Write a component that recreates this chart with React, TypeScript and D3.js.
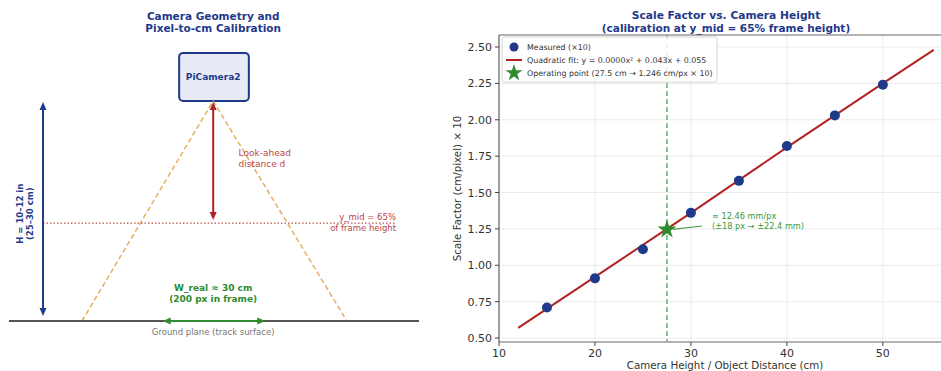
import React from 'react';
import * as d3 from 'd3';

// ---- right panel data ----
const cameraHeights = [15, 20, 25, 30, 35, 40, 45, 50];
const scaleMeasured = [0.71, 0.91, 1.11, 1.36, 1.58, 1.82, 2.03, 2.24];
const fitHeights = [12, 20, 30, 40, 50, 55.3];
const fitValues = [0.57, 0.92, 1.36, 1.81, 2.25, 2.48];
const operatingPoint = [27.5, 1.246];
const xTicks = [10, 20, 30, 40, 50];
const yTicks = [0.5, 0.75, 1.0, 1.25, 1.5, 1.75, 2.0, 2.25, 2.5];
const legendLabels = [
  'Measured (×10)',
  'Quadratic fit: y = 0.0000x² + 0.043x + 0.055',
  'Operating point (27.5 cm → 1.246 cm/px × 10)',
];

// ---- left panel diagram (in diagram units) ----
const cameraBox = [4.15, 8, 5.85, 9.75]; // x0, y0, x1, y1
const fovTriangle = [[1.78, 0], [4.98, 8], [8.24, 0]];
const groundLine = [0, 10];
const heightArrow = [0.83, 0.18, 7.96];
const lookAheadArrow = [4.98, 7.96, 3.67];
const yMidLine = [0.83, 9.44, 3.56];
const widthArrow = [3.75, 6.25, 0];

const FONT = "'DejaVu Sans', Verdana, sans-serif";
const NAVY = '#1f3a8a';
const RED = '#b22222';
const GREEN = '#2e8b2e';

function LeftPanel() {
  const sx = d3.scaleLinear().domain([0, 10]).range([9, 419]);
  const sy = d3.scaleLinear().domain([0, 10]).range([321, 46]);
  const tri = d3.line<number[]>().x(d => sx(d[0])).y(d => sy(d[1]))(fovTriangle);
  const cx = sx(4.98);
  return (
    <g fontFamily={FONT}>
      <text x={cx} y={20} textAnchor="middle" fontSize={10.5} fontWeight="bold" fill={NAVY}>Camera Geometry and</text>
      <text x={cx} y={32} textAnchor="middle" fontSize={10.5} fontWeight="bold" fill={NAVY}>Pixel-to-cm Calibration</text>

      <rect x={sx(cameraBox[0])} y={sy(cameraBox[3])} width={sx(cameraBox[2]) - sx(cameraBox[0])}
        height={sy(cameraBox[1]) - sy(cameraBox[3])} rx={4} fill="#e8eaf6" stroke={NAVY} strokeWidth={2} />
      <text x={cx} y={sy((cameraBox[1] + cameraBox[3]) / 2) + 3} textAnchor="middle" fontSize={9} fontWeight="bold" fill={NAVY}>PiCamera2</text>

      <path d={tri ?? ''} fill="none" stroke="#e0a045" strokeWidth={1.5} strokeDasharray="5,3" opacity={0.85} />

      <line x1={sx(groundLine[0])} x2={sx(groundLine[1])} y1={sy(0)} y2={sy(0)} stroke="#555" strokeWidth={2} />
      <text x={cx} y={sy(0) + 14} textAnchor="middle" fontSize={8.5} fill="#777">Ground plane (track surface)</text>

      <line x1={sx(yMidLine[0])} x2={sx(yMidLine[1])} y1={sy(yMidLine[2])} y2={sy(yMidLine[2])}
        stroke={RED} strokeWidth={1.2} strokeDasharray="1.5,2" opacity={0.8} />
      <text x={sx(yMidLine[1])} y={sy(yMidLine[2]) - 3} textAnchor="end" fontSize={8.5} fill={RED} opacity={0.85}>y_mid = 65%</text>
      <text x={sx(yMidLine[1])} y={sy(yMidLine[2]) + 8} textAnchor="end" fontSize={8.5} fill={RED} opacity={0.85}>of frame height</text>

      {/* height arrow */}
      <line x1={sx(heightArrow[0])} x2={sx(heightArrow[0])} y1={sy(heightArrow[2]) + 4} y2={sy(heightArrow[1]) - 4} stroke={NAVY} strokeWidth={2} />
      <path d={`M${sx(heightArrow[0])},${sy(heightArrow[2])} l-3.5,8 l7,0 z`} fill={NAVY} />
      <path d={`M${sx(heightArrow[0])},${sy(heightArrow[1])} l-3.5,-8 l7,0 z`} fill={NAVY} />
      <g transform={`translate(${sx(heightArrow[0]) - 20},${sy(3.9)}) rotate(-90)`}>
        <text x={0} y={0} textAnchor="middle" fontSize={8.5} fontWeight="bold" fill={NAVY}>H = 10–12 in</text>
        <text x={0} y={10} textAnchor="middle" fontSize={8.5} fontWeight="bold" fill={NAVY}>(25–30 cm)</text>
      </g>

      {/* look-ahead arrow */}
      <line x1={sx(lookAheadArrow[0])} x2={sx(lookAheadArrow[0])} y1={sy(lookAheadArrow[1]) + 4} y2={sy(lookAheadArrow[2]) - 4} stroke={RED} strokeWidth={2} />
      <path d={`M${sx(lookAheadArrow[0])},${sy(lookAheadArrow[1])} l-3.5,8 l7,0 z`} fill={RED} />
      <path d={`M${sx(lookAheadArrow[0])},${sy(lookAheadArrow[2])} l-3.5,-8 l7,0 z`} fill={RED} />
      <text x={sx(5.6)} y={156} fontSize={9} fill={RED} opacity={0.85}>Look-ahead</text>
      <text x={sx(5.6)} y={167} fontSize={9} fill={RED} opacity={0.85}>distance d</text>

      {/* width arrow */}
      <line x1={sx(widthArrow[0]) + 4} x2={sx(widthArrow[1]) - 4} y1={sy(widthArrow[2])} y2={sy(widthArrow[2])} stroke={GREEN} strokeWidth={2} />
      <path d={`M${sx(widthArrow[0])},${sy(widthArrow[2])} l8,-3.5 l0,7 z`} fill={GREEN} />
      <path d={`M${sx(widthArrow[1])},${sy(widthArrow[2])} l-8,-3.5 l0,7 z`} fill={GREEN} />
      <text x={cx} y={291} textAnchor="middle" fontSize={9} fontWeight="bold" fill={GREEN}>W_real ≈ 30 cm</text>
      <text x={cx} y={302} textAnchor="middle" fontSize={9} fontWeight="bold" fill={GREEN}>(200 px in frame)</text>
    </g>
  );
}

function RightPanel() {
  const left = 499, right = 951, top = 35, bottom = 342;
  const x = d3.scaleLinear().domain([10, 57.1]).range([left, right]);
  const y = d3.scaleLinear().domain([0.5, 2.5]).range([338, 47]);
  const fitLine = d3.line<number>().x(d => x(d)).y((d, i) => y(fitValues[i]))(fitHeights);
  const star = d3.symbol().type(d3.symbolStar).size(110)();
  const starSmall = d3.symbol().type(d3.symbolStar).size(90)();
  const ox = x(operatingPoint[0]), oy = y(operatingPoint[1]);
  return (
    <g fontFamily={FONT}>
      <text x={726} y={19} textAnchor="middle" fontSize={10.7} fontWeight="bold" fill={NAVY}>Scale Factor vs. Camera Height</text>
      <text x={726} y={31.5} textAnchor="middle" fontSize={10.5} fontWeight="bold" fill={NAVY}>(calibration at y_mid = 65% frame height)</text>

      {/* grid */}
      {xTicks.map(t => <line key={'gx' + t} x1={x(t)} x2={x(t)} y1={top} y2={bottom} stroke="#e6e6e6" strokeWidth={0.8} />)}
      {yTicks.map(t => <line key={'gy' + t} x1={left} x2={right} y1={y(t)} y2={y(t)} stroke="#e6e6e6" strokeWidth={0.8} />)}

      {/* spines */}
      <line x1={left} x2={right} y1={top} y2={top} stroke="#666" strokeWidth={1} />
      <line x1={left} x2={left} y1={top} y2={bottom} stroke="#666" strokeWidth={1.2} />
      <line x1={left} x2={right} y1={bottom} y2={bottom} stroke="#666" strokeWidth={1.2} />

      {xTicks.map(t => (
        <g key={'tx' + t}>
          <line x1={x(t)} x2={x(t)} y1={bottom} y2={bottom + 4} stroke="#444" />
          <text x={x(t)} y={bottom + 15} textAnchor="middle" fontSize={11} fill="#333">{t}</text>
        </g>
      ))}
      {yTicks.map(t => (
        <g key={'ty' + t}>
          <line x1={left - 4} x2={left} y1={y(t)} y2={y(t)} stroke="#444" />
          <text x={left - 7} y={y(t) + 4} textAnchor="end" fontSize={11} fill="#333">{t.toFixed(2)}</text>
        </g>
      ))}
      <text x={725} y={369} textAnchor="middle" fontSize={10.3} fill="#333">Camera Height / Object Distance (cm)</text>
      <text transform={`translate(461,${(top + bottom) / 2}) rotate(-90)`} textAnchor="middle" fontSize={10.3} fill="#333">Scale Factor (cm/pixel) × 10</text>

      {/* operating point vertical */}
      <line x1={ox} x2={ox} y1={top} y2={bottom} stroke="#4a9e4a" strokeWidth={1.4} strokeDasharray="5,3" opacity={0.85} />

      <path d={fitLine ?? ''} fill="none" stroke={RED} strokeWidth={2} />
      {cameraHeights.map((h, i) => (
        <circle key={h} cx={x(h)} cy={y(scaleMeasured[i])} r={5} fill={NAVY} />
      ))}
      <path d={star ?? ''} transform={`translate(${ox},${oy})`} fill={GREEN} />

      {/* annotation */}
      <line x1={702} y1={226} x2={ox + 6} y2={oy} stroke={GREEN} strokeWidth={1.2} opacity={0.85} />
      <text x={712} y={219} fontSize={8.2} fill="#3a9a3a">≈ 12.46 mm/px</text>
      <text x={712} y={229} fontSize={8.2} fill="#3a9a3a">(±18 px → ±22.4 mm)</text>

      {/* legend */}
      <rect x={502} y={37} width={215} height={45} rx={2} fill="#fff" fillOpacity={0.85} stroke="#ccc" strokeWidth={0.8} />
      <circle cx={514} cy={47} r={4.5} fill={NAVY} />
      <line x1={506} x2={522} y1={60} y2={60} stroke={RED} strokeWidth={2} />
      <path d={starSmall ?? ''} transform={`translate(514,73)`} fill={GREEN} />
      {legendLabels.map((l, i) => (
        <text key={l} x={527} y={50 + i * 13} fontSize={7.9} fill="#333">{l}</text>
      ))}
    </g>
  );
}

export default function App() {
  return (
    <svg width={941} height={371} style={{ position: 'absolute', left: 0, top: 0, background: '#fff' }}>
      <rect width={941} height={371} fill="#fff" />
      <LeftPanel />
      <RightPanel />
    </svg>
  );
}
